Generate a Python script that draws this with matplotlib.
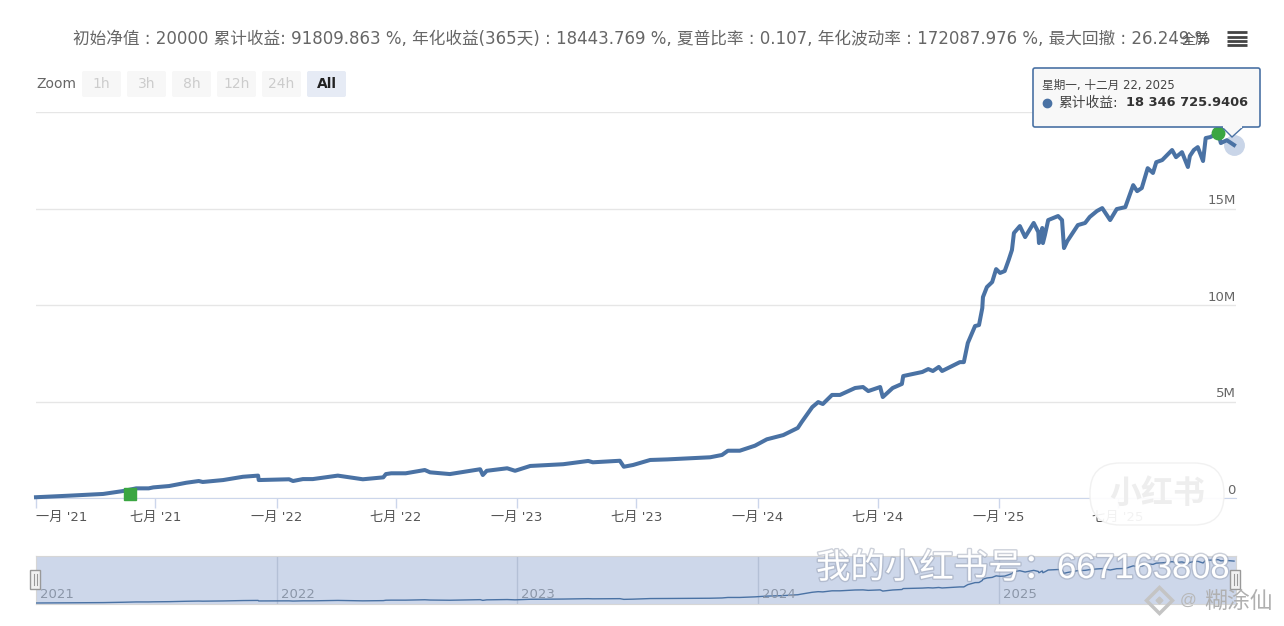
import matplotlib
matplotlib.use("Agg")
import matplotlib.pyplot as plt
import matplotlib.patches as patches
import matplotlib.patheffects as pe
import numpy as np

plt.rcParams['font.family'] = ['DejaVu Sans', 'Noto Sans CJK SC']

# days since 2021-01-01
days = [0, 50, 102, 132, 152, 171, 178, 202, 228, 247, 253, 284, 314, 337, 338, 384, 390, 405, 420,
        458, 496, 527, 531, 539, 561, 590, 598, 628, 674, 678, 684, 715, 727, 750, 800, 838, 845,
        886, 892, 906, 932, 958, 1023, 1041, 1050, 1068, 1091, 1109, 1134, 1156, 1162, 1178, 1187,
        1194, 1208, 1220, 1243, 1255, 1263, 1281, 1285, 1300, 1314, 1316, 1345, 1354, 1361, 1370,
        1375, 1402, 1408, 1414, 1425, 1431, 1436, 1437, 1443, 1451, 1457, 1463, 1470, 1476, 1481,
        1484, 1493, 1501, 1514, 1521, 1522, 1527, 1528, 1531, 1536, 1551, 1557, 1560, 1565, 1581,
        1592, 1599, 1610, 1618, 1625, 1630, 1640, 1653, 1665, 1671, 1678, 1687, 1695, 1700, 1709,
        1724, 1730, 1739, 1748, 1751, 1757, 1763, 1771, 1775, 1782, 1794, 1798, 1807, 1818]
# cumulative return, millions
values = [0.04, 0.12, 0.21, 0.36, 0.50, 0.50, 0.55, 0.62, 0.79, 0.88, 0.83, 0.93, 1.10, 1.16, 0.93,
          0.97, 0.88, 0.98, 0.98, 1.16, 0.97, 1.07, 1.24, 1.28, 1.28, 1.45, 1.33, 1.24, 1.49, 1.19,
          1.41, 1.54, 1.41, 1.66, 1.75, 1.92, 1.85, 1.93, 1.62, 1.71, 1.97, 2.00, 2.11, 2.23, 2.45,
          2.45, 2.71, 3.04, 3.26, 3.63, 3.94, 4.71, 4.97, 4.87, 5.34, 5.34, 5.70, 5.75, 5.54, 5.75,
          5.23, 5.70, 5.91, 6.32, 6.53, 6.68, 6.58, 6.79, 6.58, 7.04, 7.04, 8.03, 8.91, 8.96, 9.84,
          10.41, 10.93, 11.19, 11.86, 11.66, 11.76, 12.33, 12.85, 13.73, 14.09, 13.52, 14.25, 13.78,
          13.21, 13.99, 13.21, 13.62, 14.40, 14.61, 14.40, 12.95, 13.31, 14.14, 14.25, 14.56, 14.87,
          15.02, 14.66, 14.40, 14.97, 15.07, 16.21, 15.90, 16.06, 17.09, 16.84, 17.40, 17.51, 18.03,
          17.66, 17.92, 17.15, 17.72, 18.03, 18.18, 17.46, 18.65, 18.70, 18.91, 18.39, 18.54, 18.29]

flag_days = [142, 1794]
flag_values = [0.22, 18.91]

y_ticks = [0, 5, 10, 15, 20]
y_labels = ['0', '5M', '10M', '15M']  # the 20M label sits behind the tooltip
x_ticks = ['2021-01-01', '2021-07-01', '2022-01-01', '2022-07-01', '2023-01-01',
           '2023-07-01', '2024-01-01', '2024-07-01', '2025-01-01', '2025-07-01']
x_labels = ["一月 '21", "七月 '21", "一月 '22", "七月 '22", "一月 '23",
            "七月 '23", "一月 '24", "七月 '24", "一月 '25", "七月 '25"]
year_ticks = ['2022-01-01', '2023-01-01', '2024-01-01', '2025-01-01']
year_labels = ['2021', '2022', '2023', '2024', '2025']
zoom_labels = ['1h', '3h', '8h', '12h', '24h', 'All']

header = ("初始净值 : 20000 累计收益: 91809.863 %, 年化收益(365天) : 18443.769 %, 夏普比率 : 0.107, "
          "年化波动率 : 172087.976 %, 最大回撤 : 26.249 %")

start = np.datetime64('2021-01-01')
dates = start + np.array(days).astype('timedelta64[D]')
flag_dates = start + np.array(flag_days).astype('timedelta64[D]')
x_start = np.datetime64('2021-01-01')
x_end = np.datetime64('2025-12-27')

W, H = 1284, 626
BLUE = '#4a72a4'
GREEN = '#3aa642'
fig = plt.figure(figsize=(W / 100, H / 100), dpi=100)

# main chart
ax = fig.add_axes([36 / W, (H - 498) / H, 1200 / W, 386 / H])
ax.plot(dates, values, color=BLUE, lw=2.9, solid_joinstyle='round', clip_on=False, zorder=3)
ax.plot(flag_dates[0], flag_values[0], marker='s', ms=8, color=GREEN, clip_on=False, zorder=4)
ax.plot(flag_dates[1], flag_values[1], marker='o', ms=9, color=GREEN, clip_on=False, zorder=4)
ax.plot(dates[-1], values[-1], marker='o', ms=14, color='#c9d5e8', clip_on=False, zorder=2)
ax.set_xlim(x_start, x_end)
ax.set_ylim(0, 20)
for s in ['top', 'left', 'right']:
    ax.spines[s].set_visible(False)
ax.spines['bottom'].set_color('#ccd6eb')
ax.set_yticks(y_ticks)
ax.tick_params(axis='y', length=0, labelleft=False)
ax.grid(axis='y', color='#e6e6e6', lw=1)
ax.set_axisbelow(True)
ax.set_xticks(np.array(x_ticks, dtype='datetime64[D]'))
ax.set_xticklabels(x_labels, fontsize=9.5, color='#555555')
ax.tick_params(axis='x', length=7.5, color='#ccd6eb', width=1, pad=2)
ax.get_xticklabels()[0].set_ha('left')
for y, lab in zip(y_ticks, y_labels):
    ax.annotate(lab, (1, y), xycoords=('axes fraction', 'data'), xytext=(0, 5.5),
                textcoords='offset points', ha='right', va='center', fontsize=9.5, color='#666666')

# navigator
nav = fig.add_axes([36 / W, (H - 604) / H, 1200 / W, 48 / H])
nav.set_facecolor('#cdd7ea')
nav.plot(dates, values, color=BLUE, lw=1, zorder=3)
nav.set_xlim(x_start, x_end)
nav.set_ylim(-0.4, 20.5)
nav.set_yticks([])
nav.set_xticks(np.array(year_ticks, dtype='datetime64[D]'))
nav.tick_params(axis='x', length=0, labelbottom=False)
nav.grid(axis='x', color='#b4c0d6', lw=1)
nav.set_axisbelow(True)
for s in nav.spines.values():
    s.set_color('#d6d6d6')
year_pos = [x_start] + list(np.array(year_ticks, dtype='datetime64[D]'))
for p, lab in zip(year_pos, year_labels):
    nav.annotate(lab, (p, 0), xycoords=('data', 'axes fraction'), xytext=(3, 2),
                 textcoords='offset points', ha='left', va='bottom', fontsize=9.5, color='#8b96a8')

# everything else is page furniture, placed in pixels
top = fig.add_axes([0, 0, 1, 1], zorder=10)
top.set_xlim(0, W)
top.set_ylim(H, 0)
top.axis('off')
top.patch.set_alpha(0)

top.text(73, 39, header, fontsize=12, color='#666666', ha='left', va='center')
top.text(1196, 40, '全屏', fontsize=10, color='#555555', ha='center', va='center')
for y in [32, 36.5, 41, 45]:
    top.plot([1227, 1247], [y, y], color='#444444', lw=2, solid_capstyle='butt')

top.text(36, 84, 'Zoom', fontsize=10, color='#666666', ha='left', va='center')
for i, lab in enumerate(zoom_labels):
    x0 = 82 + i * 45
    active = lab == 'All'
    top.add_patch(patches.FancyBboxPatch((x0, 71), 39, 26, boxstyle='round,pad=0,rounding_size=2',
                                         fc='#e6ebf5' if active else '#f7f7f7', ec='none'))
    top.text(x0 + 19.5, 84.5, lab, fontsize=10, ha='center', va='center',
             color='#222222' if active else '#cccccc', fontweight='bold' if active else 'normal')

# tooltip
top.add_patch(patches.Polygon([[1222, 127], [1232, 137], [1243, 127]], closed=True,
                              fc='#f8f8f8', ec=BLUE, lw=1, zorder=5))
top.add_patch(patches.FancyBboxPatch((1033, 68), 227, 59, boxstyle='round,pad=0,rounding_size=2',
                                     fc='#f8f8f8', ec=BLUE, lw=1.2, zorder=6))
top.plot([1224, 1241], [127, 127], color='#f8f8f8', lw=1.5, zorder=7)
top.text(1042, 85, '星期一, 十二月 22, 2025', fontsize=8.4, color='#444444', va='center', zorder=8)
top.plot(1047, 103, marker='o', ms=6, color=BLUE, zorder=8)
top.text(1058, 103, '累计收益:', fontsize=9.9, color='#444444', va='center', zorder=8)
top.text(1126, 103, '18 346 725.9406', fontsize=9.4, color='#333333', fontweight='bold',
         va='center', zorder=8)

# navigator handles
for x in [35, 1235]:
    top.add_patch(patches.Rectangle((x - 5, 570), 10, 19, fc='#f2f2f2', ec='#999999', lw=1))
    top.plot([x - 1.5, x - 1.5], [574, 585], color='#999999', lw=0.8)
    top.plot([x + 1.5, x + 1.5], [574, 585], color='#999999', lw=0.8)

# watermarks
top.add_patch(patches.FancyBboxPatch((1090, 463), 134, 62, boxstyle='round,pad=0,rounding_size=30',
                                     fc='#ffffff', ec='#f0f0f0', lw=1, alpha=0.93))
top.text(1157, 494, '小红书', fontsize=23, fontweight='bold', color='#eeeeee', ha='center', va='center',
         family=['Noto Sans CJK SC'])
top.text(816, 569, '我的小红书号：667163808', fontsize=24.8, color='white', ha='left', va='center',
         family=['Liberation Sans', 'Noto Sans CJK SC'],
         path_effects=[pe.withStroke(linewidth=2, foreground='#9aa3b5', alpha=0.5)])
top.plot(1159, 600, marker='D', ms=13, mfc='none', mec='#c4c4c4', mew=2.5)
top.plot(1159, 600, marker='D', ms=3.5, color='#c4c4c4')
top.text(1180, 600, '@', fontsize=12, color='#b8b8b8', ha='left', va='center',
         family=['Liberation Sans'])
top.text(1204, 601, '糊涂仙', fontsize=16.5, color='#b0b0b0', ha='left', va='center',
         family=['Noto Sans CJK SC'])

fig.savefig('out.png', dpi=100)
